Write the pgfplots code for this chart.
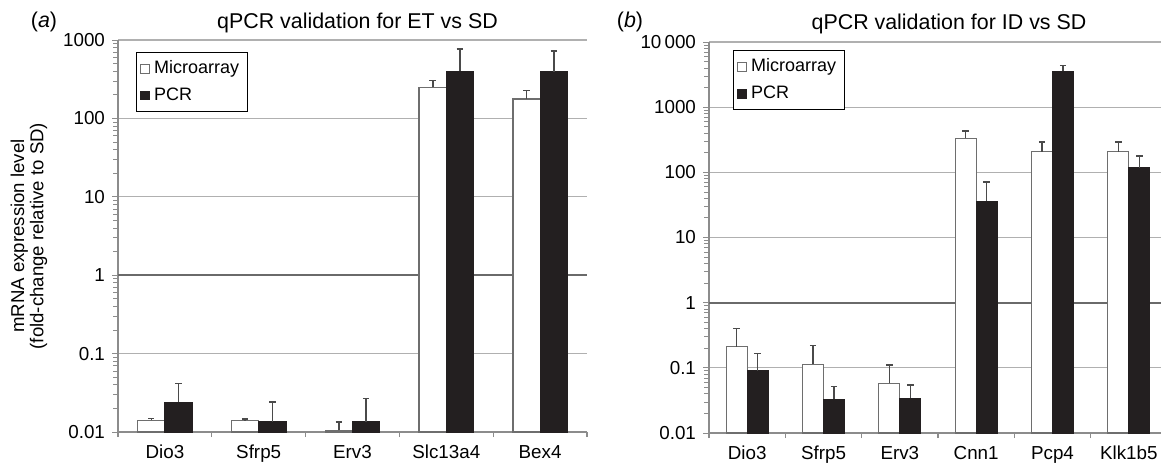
\documentclass[border=0pt]{standalone}
\usepackage{pgfplots}
\pgfplotsset{compat=1.18}
\usepackage{pgfplotstable}
\usepackage{fontspec}
\setmainfont{Liberation Sans}

\definecolor{barblack}{HTML}{231F20}
\definecolor{baredge}{HTML}{6E6E6E}
\definecolor{axisgray}{HTML}{8C8C8C}
\definecolor{gridgray}{HTML}{B0B0B0}
\definecolor{onegray}{HTML}{6A6A6A}
\definecolor{errgray}{HTML}{4A4A4A}

% ET vs SD: value and upper error for microarray and PCR
\pgfplotstableread{
x mic micerr pcr pcrerr
0 0.0141 0.0007 0.0239 0.0175
1 0.0140 0.0007 0.0136 0.0105
2 0.0105 0.0028 0.0135 0.0131
3 250 55 400 370
4 177 50 395 325
}\etvssd

% ID vs SD
\pgfplotstableread{
x mic micerr pcr pcrerr
0 0.212 0.191 0.091 0.076
1 0.114 0.105 0.033 0.0186
2 0.058 0.052 0.0342 0.0205
3 335 98 36 35
4 208 87 3550 830
5 208 87 118 59
}\idvssd

\begin{document}
\begin{tikzpicture}

\begin{axis}[
  scale only axis,
  at={(59pt,17.5pt)}, anchor=south west,
  width=234.5pt, height=196pt,
  ymode=log, log origin y=infty,
  ybar=0pt, bar width=0.29,
  ymin=0.01, ymax=1000,
  xmin=-0.5, xmax=4.5,
  axis x line*=bottom, axis y line*=left,
  axis line style={-, axisgray, line width=0.6pt},
  xtick=data,
  xticklabels={Dio3,Sfrp5,Erv3,Slc13a4,Bex4},
  minor xtick={-0.5,0.5,1.5,2.5,3.5,4.5},
  major x tick style={draw=none},
  minor x tick style={axisgray, line width=0.6pt},
  xtick align=outside, ytick align=outside,
  y tick style={axisgray, line width=0.4pt},
  major tick length=3pt, minor tick length=2.5pt,
  ytick={0.01,0.1,1,10,100,1000},
  yticklabels={0.01,0.1,1,10,100,1000},
  minor ytick={0.02,0.03,0.04,0.05,0.06,0.07,0.08,0.09,0.2,0.3,0.4,0.5,0.6,0.7,0.8,0.9,2,3,4,5,6,7,8,9,20,30,40,50,60,70,80,90,200,300,400,500,600,700,800,900},
  ymajorgrids, grid style={gridgray, line width=0.6pt},
  extra y ticks={1}, extra y tick labels={},
  extra y tick style={grid style={onegray, line width=1.1pt}},
  tick label style={font=\fontsize{9.4}{11}\selectfont},
  ylabel={mRNA expression level\\(fold-change relative to SD)},
  ylabel style={align=center, at={(axis description cs:-0.19,0.5)}, anchor=center,
    font=\fontsize{9.3}{8.6}\selectfont},
  title={qPCR validation for ET vs SD},
  title style={at={(axis description cs:0.5,1)}, anchor=base, xshift=2.5pt, yshift=0pt,
    font=\fontsize{10.7}{12}\selectfont},
  legend style={at={(0.038,0.969)}, anchor=north west, draw=black, line width=0.6pt,
    font=\fontsize{9}{11}\selectfont, inner xsep=2pt, inner ysep=2pt, row sep=1.5pt,
    cells={anchor=west}},
  error bars/y dir=plus, error bars/y explicit,
  error bars/error bar style={errgray, line width=0.8pt},
  error bars/error mark options={rotate=90, errgray, line width=0.8pt, mark size=1.6pt},
]
\addplot[fill=white, draw=baredge, line width=0.6pt,
  legend image code/.code={\draw[fill=white, draw=baredge, line width=0.5pt] (0pt,-2.2pt) rectangle (4.4pt,2.2pt);}]
  table[x=x, y=mic, y error plus=micerr] {\etvssd};
\addlegendentry{Microarray}
\addplot[fill=barblack, draw=barblack, line width=0.6pt,
  legend image code/.code={\draw[fill=barblack, draw=barblack, line width=0.5pt] (0pt,-2.2pt) rectangle (4.4pt,2.2pt);}]
  table[x=x, y=pcr, y error plus=pcrerr] {\etvssd};
\addlegendentry{PCR}
\end{axis}

\begin{axis}[
  scale only axis,
  at={(354.5pt,17pt)}, anchor=south west,
  width=229pt, height=195.5pt,
  ymode=log, log origin y=infty,
  ybar=0pt, bar width=0.275,
  ymin=0.01, ymax=10000,
  xmin=-0.5, xmax=5.5,
  axis x line*=bottom, axis y line*=left,
  axis line style={-, axisgray, line width=0.6pt},
  xtick=data,
  xticklabels={Dio3,Sfrp5,Erv3,Cnn1,Pcp4,Klk1b5},
  minor xtick={-0.5,0.5,1.5,2.5,3.5,4.5,5.5},
  major x tick style={draw=none},
  minor x tick style={axisgray, line width=0.6pt},
  xtick align=outside, ytick align=outside,
  y tick style={axisgray, line width=0.4pt},
  major tick length=3pt, minor tick length=2.5pt,
  ytick={0.01,0.1,1,10,100,1000,10000},
  yticklabels={0.01,0.1,1,10,100,1000,10\,000},
  minor ytick={0.02,0.03,0.04,0.05,0.06,0.07,0.08,0.09,0.2,0.3,0.4,0.5,0.6,0.7,0.8,0.9,2,3,4,5,6,7,8,9,20,30,40,50,60,70,80,90,200,300,400,500,600,700,800,900,2000,3000,4000,5000,6000,7000,8000,9000},
  ymajorgrids, grid style={gridgray, line width=0.6pt},
  extra y ticks={1}, extra y tick labels={},
  extra y tick style={grid style={onegray, line width=1.1pt}},
  tick label style={font=\fontsize{9.4}{11}\selectfont},
  title={qPCR validation for ID vs SD},
  title style={at={(axis description cs:0.5,1)}, anchor=base, xshift=5.5pt, yshift=0.5pt,
    font=\fontsize{10.7}{12}\selectfont},
  legend style={at={(0.052,0.979)}, anchor=north west, draw=black, line width=0.6pt,
    font=\fontsize{9}{11}\selectfont, inner xsep=2pt, inner ysep=2pt, row sep=1.5pt,
    cells={anchor=west}},
  error bars/y dir=plus, error bars/y explicit,
  error bars/error bar style={errgray, line width=0.8pt},
  error bars/error mark options={rotate=90, errgray, line width=0.8pt, mark size=1.6pt},
]
\addplot[fill=white, draw=baredge, line width=0.6pt,
  legend image code/.code={\draw[fill=white, draw=baredge, line width=0.5pt] (0pt,-2.2pt) rectangle (4.4pt,2.2pt);}]
  table[x=x, y=mic, y error plus=micerr] {\idvssd};
\addlegendentry{Microarray}
\addplot[fill=barblack, draw=barblack, line width=0.6pt,
  legend image code/.code={\draw[fill=barblack, draw=barblack, line width=0.5pt] (0pt,-2.2pt) rectangle (4.4pt,2.2pt);}]
  table[x=x, y=pcr, y error plus=pcrerr] {\idvssd};
\addlegendentry{PCR}
\end{axis}

\node[anchor=base, font=\fontsize{10.7}{12}\selectfont] at (22pt,219.5pt) {(\textit{a})};
\node[anchor=base, font=\fontsize{10.7}{12}\selectfont] at (315pt,219.5pt) {(\textit{b})};

\pgfresetboundingbox
\useasboundingbox (0,0) rectangle (580.5pt,233.5pt);
\end{tikzpicture}
\end{document}
